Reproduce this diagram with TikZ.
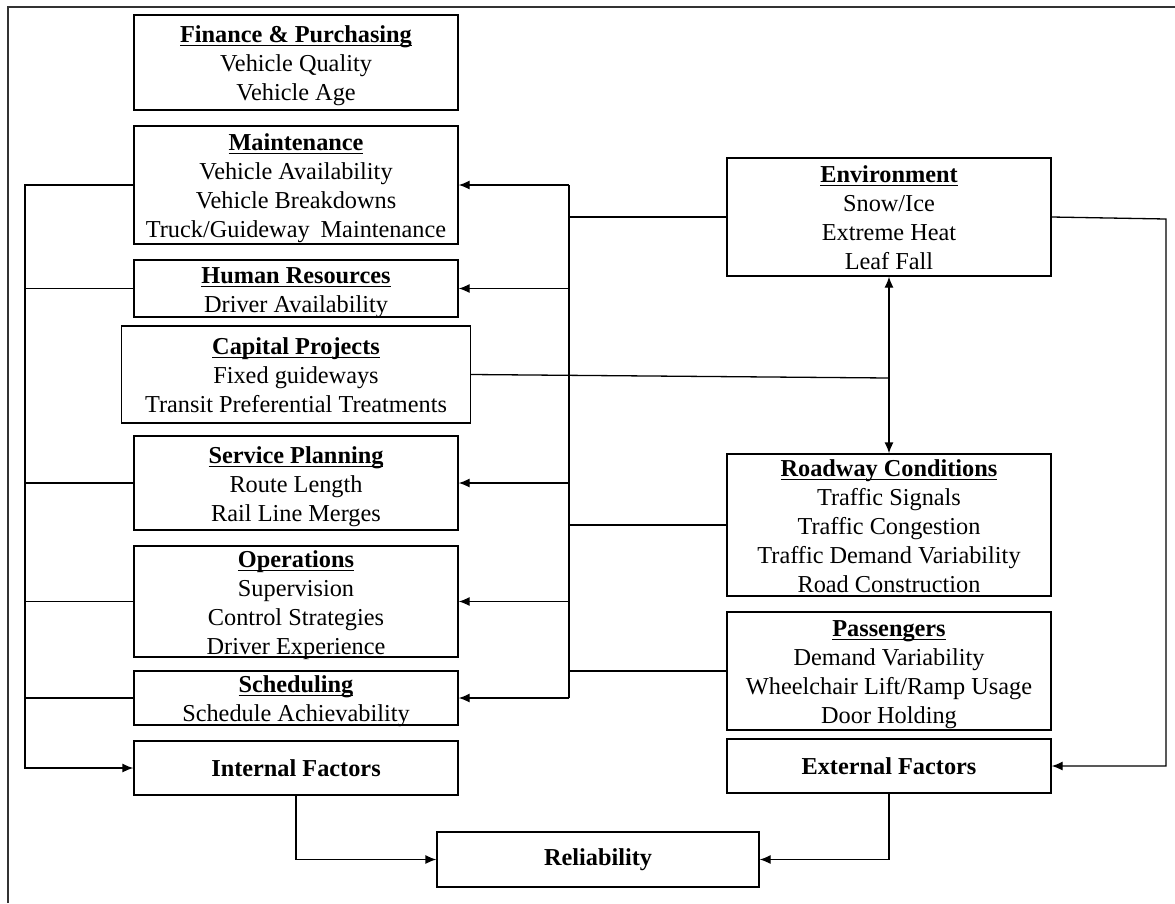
\documentclass[tikz,border=0pt]{standalone}
\usepackage{fontspec}
\setmainfont{Liberation Serif}
\usetikzlibrary{arrows.meta}
% bold, underlined heading of a factor box (with a strut fixing the first line height)
\newsavebox{\hdbox}
\newcommand{\hd}[1]{\rule{0pt}{1em}\sbox{\hdbox}{\bfseries #1}\rlap{\rule[-3.5pt]{\wd\hdbox}{1.4pt}}\usebox{\hdbox}}
% strut fixing the depth of the last line
\newcommand{\eol}{\rule[-0.22em]{0pt}{0pt}}
\tikzset{
  box/.style={draw, line width=1.3pt, inner sep=0pt},
  lbox/.style={box, minimum width=324pt},
  % box text is set as a centred label so it may overhang the fixed frame
  txt/.style={inner sep=0pt, align=center, font=\fontsize{24.3}{29}\selectfont},
  says/.style={label={[txt]center:{#1}}},
  wire/.style={line width=1.3pt},
  tip/.tip={Latex[length=11pt,width=9pt]},
  arr/.style={wire, -tip},
}
\begin{document}
\begin{tikzpicture}[x=1pt, y=-1pt]
\useasboundingbox (0,0) rectangle (1175,903);
% outer frame (top and left edges)
\draw[line width=1.8pt, black!80] (8,903) -- (8,7) -- (1175,7);

% internal factor boxes
\node[lbox, minimum height=95pt, says={\hd{Finance \& Purchasing}\\Vehicle Quality\\Vehicle Age\eol}] (fin) at (296,62.5) {};
\node[lbox, minimum height=118pt, says={\hd{Maintenance}\\Vehicle Availability\\Vehicle Breakdowns\\Truck/Guideway\hspace{0.2em} Maintenance\eol}] (maint) at (296,185) {};
\node[lbox, minimum height=57pt, says={\hd{Human Resources}\\Driver Availability\eol}] (hr) at (296,288.5) {};
\node[box, minimum width=349pt, minimum height=97pt, says={\hd{Capital Projects}\\Fixed guideways\\Transit Preferential Treatments\eol}] (cp) at (296,374.5) {};
\node[lbox, minimum height=94pt, says={\hd{Service Planning}\\Route Length\\Rail Line Merges\eol}] (svc) at (296,483) {};
\node[lbox, minimum height=111pt, says={\hd{Operations}\\Supervision\\Control Strategies\\Driver Experience\eol}] (ops) at (296,601.5) {};
\node[lbox, minimum height=54pt, says={\hd{Scheduling}\\Schedule Achievability\eol}] (sched) at (296,698) {};
\node[lbox, minimum height=54pt, says={\textbf{Internal Factors}}] (intf) at (296,768) {};

% external factor boxes
\node[lbox, minimum height=118pt, says={\hd{Environment}\\Snow/Ice\\Extreme Heat\\Leaf Fall\eol}] (env) at (889,217) {};
\node[lbox, minimum height=142pt, says={\hd{Roadway Conditions}\\Traffic Signals\\Traffic Congestion\\Traffic Demand Variability\\Road Construction\eol}] (road) at (889,525) {};
\node[lbox, minimum height=118pt, says={\hd{Passengers}\\Demand Variability\\Wheelchair Lift/Ramp Usage\\Door Holding\eol}] (pass) at (889,671) {};
\node[lbox, minimum height=54pt, says={\textbf{External Factors}}] (extf) at (889,766) {};

% result
\node[box, minimum width=322pt, minimum height=55pt, says={\textbf{Reliability}}] (rel) at (598,859.5) {};

% bus lines
\coordinate (lb) at (25,0);
\coordinate (rb) at (569,0);
\coordinate (rr) at (1166,0);
\coordinate (envR) at (1166,219);
\coordinate (cpj) at (889,378);

% left bus collecting the internal factors
\draw[arr] (maint.west) -- (lb |- maint.west) -- (lb |- intf.west) -- (intf.west);
\draw[wire] (hr.west) -- (lb |- hr.west);
\draw[wire] (svc.west) -- (lb |- svc.west);
\draw[wire] (ops.west) -- (lb |- ops.west);
\draw[wire] (sched.west) -- (lb |- sched.west);

% right bus feeding external influences into internal factors
\draw[wire] (rb |- maint.east) -- (rb |- sched.east);
\draw[arr] (rb |- maint.east) -- (maint.east);
\draw[arr] (rb |- hr.east) -- (hr.east);
\draw[arr] (rb |- svc.east) -- (svc.east);
\draw[arr] (rb |- ops.east) -- (ops.east);
\draw[arr] (rb |- sched.east) -- (sched.east);
\draw[wire] (env.west) -- (rb |- env.west);
\draw[wire] (road.west) -- (rb |- road.west);
\draw[wire] (pass.west) -- (rb |- pass.west);

% environment to external factors
\draw[arr] (env.east) -- (envR) -- (rr |- extf.east) -- (extf.east);

% environment <-> roadway conditions, with capital projects joining
\draw[wire, tip-tip] (env.south) -- (road.north);
\draw[wire] (cp.east) -- (cpj);

% both factor groups into reliability
\draw[arr] (intf.south) |- (rel.west);
\draw[arr] (extf.south) |- (rel.east);
\end{tikzpicture}
\end{document}
